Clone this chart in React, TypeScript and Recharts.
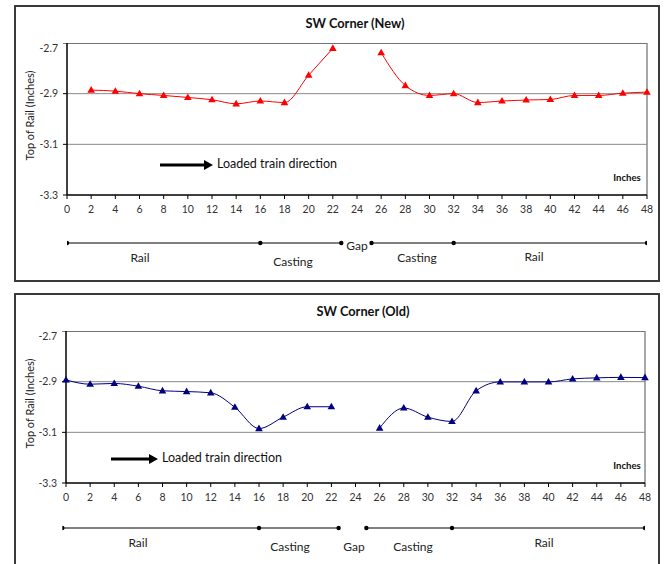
import React from 'react'
import { LineChart, Line, XAxis, YAxis, ReferenceLine } from 'recharts'

// distance along the joint, inches
const positions = [0, 2, 4, 6, 8, 10, 12, 14, 16, 18, 20, 22, 24, 26, 28, 30, 32, 34, 36, 38, 40, 42, 44, 46, 48]

const newCorner = [
  null, -2.886, -2.89, -2.9, -2.907, -2.915, -2.924, -2.94, -2.929, -2.935, -2.827, -2.721,
  null, -2.738, -2.868, -2.907, -2.9, -2.935, -2.929, -2.925, -2.923, -2.907, -2.907, -2.898, -2.894,
]

const oldCorner = [
  -2.893, -2.91, -2.907, -2.918, -2.936, -2.939, -2.944, -3.001, -3.085, -3.04, -2.999, -2.999,
  null, -3.083, -3.004, -3.04, -3.057, -2.936, -2.901, -2.901, -2.901, -2.889, -2.885, -2.883, -2.884,
]

const yTicks = [-3.3, -3.1, -2.9, -2.7]

// breakpoints of the rail / casting / gap bar under the axis
const newBarLeft = [0, 16, 22.7]
const newBarRight = [25.2, 32, 48]
const oldBarLeft = [-0.3, 16, 22.6]
const oldBarRight = [24.9, 32, 48]

const FONT = 'Lato, "Open Sans", sans-serif'

const triangle = (color: string) => (props: any) => {
  const { cx, cy, index } = props
  if (cx == null || cy == null || Number.isNaN(cy)) return <g key={`t-${index}`} />
  return (
    <path
      key={`t-${index}`}
      d={`M${cx},${cy - 4} L${cx + 3.8},${cy + 2.6} L${cx - 3.8},${cy + 2.6} Z`}
      fill={color}
      stroke="none"
    />
  )
}

interface BarLabel { text: string; x: number; y: number }

interface PanelProps {
  top: number
  boxBottom: number
  title: string
  titleX: number
  values: (number | null)[]
  color: string
  plotLeft: number
  plotRight: number
  barLeft: number[]
  barRight: number[]
  barDomainMin: number
  barY: number
  barLabels: BarLabel[]
  arrowX1: number
  arrowX2: number
  arrowY: number
}

function Panel(p: PanelProps) {
  const data = positions.map((x, i) => ({ x, v: p.values[i] }))
  const barData = [
    ...p.barLeft.map(x => ({ x, y: 0.5 })),
    { x: 24, y: null },
    ...p.barRight.map(x => ({ x, y: 0.5 })),
  ]
  // widen the bar chart leftwards when its domain starts below 0
  const barMarginLeft = p.plotLeft + p.barDomainMin * ((p.plotRight - p.plotLeft) / 48)

  return (
    <>
      <div
        style={{
          position: 'absolute', left: 14, top: p.top, width: 646, height: p.boxBottom - p.top,
          border: '2px solid #3a3a3a', boxSizing: 'border-box',
        }}
      />
      <div
        style={{
          position: 'absolute', left: p.titleX - 80, top: p.top + 10, width: 160, textAlign: 'center',
          fontSize: 12.8, fontWeight: 700, color: '#111', fontFamily: FONT,
        }}
      >
        {p.title}
      </div>
      <div
        style={{
          position: 'absolute', left: 29 - 60, top: p.top + 112 - 8, width: 120, textAlign: 'center',
          fontSize: 11, color: '#222', fontFamily: FONT, transform: 'rotate(-90deg)',
        }}
      >
        Top of Rail (Inches)
      </div>

      <div style={{ position: 'absolute', left: 0, top: p.top + 38 }}>
        <LineChart
          width={664}
          height={240}
          data={data}
          margin={{ top: 0, right: 664 - p.plotRight, left: 0, bottom: 0 }}
        >
          <XAxis
            dataKey="x"
            type="number"
            domain={[0, 48]}
            ticks={positions}
            height={88}
            tickSize={4}
            tickMargin={7}
            axisLine={{ stroke: '#000', strokeWidth: 1.5 }}
            tickLine={{ stroke: '#000' }}
            tick={{ fontSize: 10.5, fill: '#333', fontFamily: FONT }}
            interval={0}
          />
          <YAxis
            type="number"
            domain={[-3.3, -2.7]}
            ticks={yTicks}
            width={p.plotLeft}
            tickSize={4}
            tickMargin={5}
            axisLine={{ stroke: '#000', strokeWidth: 1.5 }}
            tickLine={{ stroke: '#000' }}
            tick={{ fontSize: 10.5, fill: '#333', fontFamily: FONT }}
            tickFormatter={(v: number) => v.toFixed(1)}
          />
          <ReferenceLine y={-2.9} stroke="#8a8a8a" strokeWidth={1} />
          <ReferenceLine y={-3.1} stroke="#8a8a8a" strokeWidth={1} />
          <ReferenceLine y={-2.7} stroke="#444" strokeWidth={1.5} />
          <ReferenceLine x={48} stroke="#8a8a8a" strokeWidth={1.5} />
          <Line
            dataKey="v"
            type="monotone"
            stroke={p.color}
            strokeWidth={1}
            dot={triangle(p.color)}
            activeDot={false}
            connectNulls={false}
            isAnimationActive={false}
          />
        </LineChart>
      </div>

      <div
        style={{
          position: 'absolute', left: 590, top: p.top + 167, width: 74, textAlign: 'center',
          fontSize: 9.6, fontWeight: 700, color: '#111', fontFamily: FONT,
        }}
      >
        Inches
      </div>

      <svg style={{ position: 'absolute', left: 0, top: 0 }} width={664} height={564}>
        <line x1={p.arrowX1} y1={p.arrowY} x2={p.arrowX2 - 8} y2={p.arrowY} stroke="#000" strokeWidth={3} />
        <path
          d={`M${p.arrowX2},${p.arrowY} L${p.arrowX2 - 9},${p.arrowY - 5} L${p.arrowX2 - 9},${p.arrowY + 5} Z`}
          fill="#000"
        />
      </svg>
      <div
        style={{
          position: 'absolute', left: p.arrowX2 + 4, top: p.arrowY - 9, whiteSpace: 'nowrap',
          fontSize: 12.5, color: '#111', fontFamily: FONT,
        }}
      >
        Loaded train direction
      </div>

      <div style={{ position: 'absolute', left: 0, top: p.barY - 10 }}>
        <LineChart
          width={664}
          height={20}
          data={barData}
          margin={{ top: 0, right: 664 - p.plotRight, left: barMarginLeft, bottom: 0 }}
        >
          <XAxis dataKey="x" type="number" domain={[p.barDomainMin, 48]} hide allowDataOverflow />
          <YAxis type="number" domain={[0, 1]} hide />
          <Line
            dataKey="y"
            type="linear"
            stroke="#000"
            strokeWidth={1.2}
            dot={{ r: 2.2, fill: '#000', stroke: '#000', strokeWidth: 0 }}
            activeDot={false}
            connectNulls={false}
            isAnimationActive={false}
          />
        </LineChart>
      </div>

      {p.barLabels.map(l => (
        <div
          key={l.text + l.x}
          style={{
            position: 'absolute', left: l.x - 40, top: l.y - 9, width: 80, textAlign: 'center',
            fontSize: 12, color: '#222', fontFamily: FONT,
          }}
        >
          {l.text}
        </div>
      ))}
    </>
  )
}

export default function App() {
  return (
    <div
      style={{
        position: 'absolute', left: 0, top: 0, width: 664, height: 564, overflow: 'hidden',
        background: '#fff', fontFamily: FONT,
      }}
    >
      <Panel
        top={5}
        boxBottom={282}
        title="SW Corner (New)"
        titleX={355}
        values={newCorner}
        color="#ff0000"
        plotLeft={67}
        plotRight={647}
        barLeft={newBarLeft}
        barRight={newBarRight}
        barDomainMin={0}
        barY={243}
        barLabels={[
          { text: 'Rail', x: 140, y: 259 },
          { text: 'Casting', x: 293, y: 263 },
          { text: 'Gap', x: 357, y: 247 },
          { text: 'Casting', x: 417, y: 259 },
          { text: 'Rail', x: 534, y: 258 },
        ]}
        arrowX1={160}
        arrowX2={213}
        arrowY={165}
      />
      <Panel
        top={293}
        boxBottom={600}
        title="SW Corner (Old)"
        titleX={363}
        values={oldCorner}
        color="#000080"
        plotLeft={66}
        plotRight={645}
        barLeft={oldBarLeft}
        barRight={oldBarRight}
        barDomainMin={-0.3}
        barY={528}
        barLabels={[
          { text: 'Rail', x: 138, y: 544 },
          { text: 'Casting', x: 290, y: 548 },
          { text: 'Gap', x: 354, y: 548 },
          { text: 'Casting', x: 413, y: 548 },
          { text: 'Rail', x: 544, y: 544 },
        ]}
        arrowX1={111}
        arrowX2={158}
        arrowY={459}
      />
    </div>
  )
}
